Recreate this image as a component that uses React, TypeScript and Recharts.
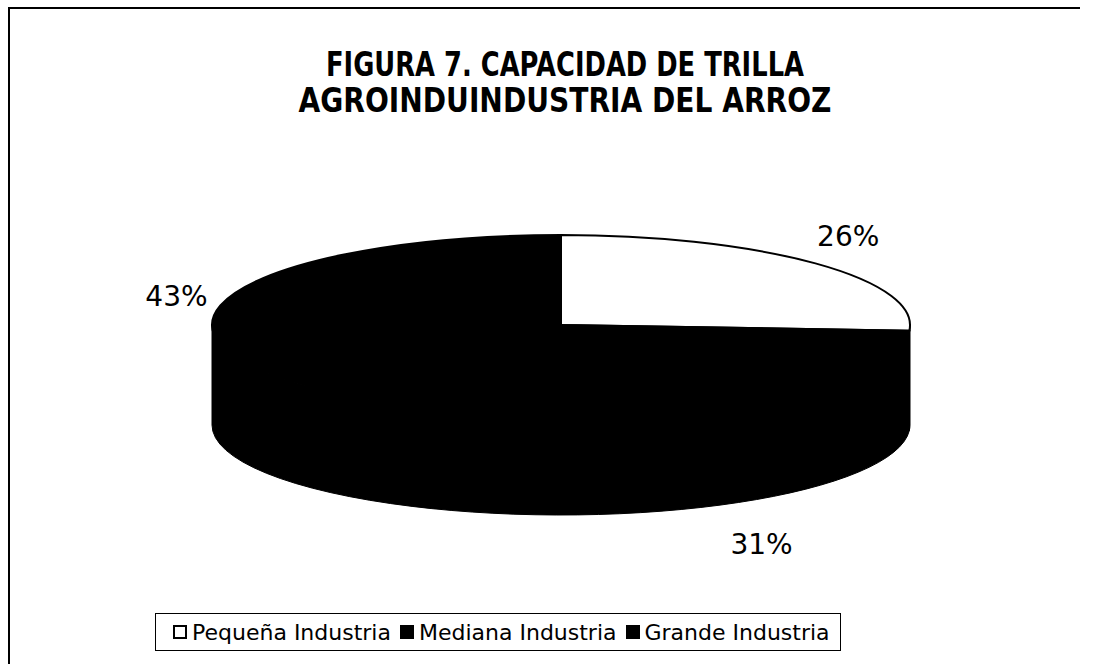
import React from 'react';
import { PieChart, Pie, Cell, Legend } from 'recharts';

const categories = ['Pequeña Industria', 'Mediana Industria', 'Grande Industria'];
const shares = [26, 31, 43];
const colors = ['#ffffff', '#000000', '#000000'];

const titleLines = ['FIGURA 7. CAPACIDAD DE TRILLA', 'AGROINDUINDUSTRIA DEL ARROZ'];

const data = categories.map((name, i) => ({ name, value: shares[i] }));

const W = 1100;
const H = 664;
const CX = 556;
const CY = 320;
const RX = 349;
const RY = 90;
const DEPTH = 100;
const FONT = '"DejaVu Sans", Verdana, sans-serif';

const rad = (a: number) => (a * Math.PI) / 180;
const pt = (cx: number, cy: number, a: number, dy = 0) =>
  `${cx + RX * Math.cos(rad(a))},${cy - RY * Math.sin(rad(a)) + dy}`;

// sector drawn as a tilted (elliptical) slice with its front wall
function Slice3D(props: any) {
  const { cx, cy, startAngle, endAngle, fill } = props;
  const s = Math.max(startAngle, endAngle);
  const e = Math.min(startAngle, endAngle);
  const large = s - e > 180 ? 1 : 0;
  const top = `M${cx},${cy} L${pt(cx, cy, s)} A${RX},${RY} 0 ${large} 1 ${pt(cx, cy, e)} Z`;

  const walls: string[] = [];
  [[-180, 0], [-540, -360]].forEach(([lo0, hi0]) => {
    const lo = Math.max(e, lo0);
    const hi = Math.min(s, hi0);
    if (lo < hi) {
      const lg = hi - lo > 180 ? 1 : 0;
      walls.push(
        `M${pt(cx, cy, hi)} A${RX},${RY} 0 ${lg} 1 ${pt(cx, cy, lo)} L${pt(cx, cy, lo, DEPTH)} A${RX},${RY} 0 ${lg} 0 ${pt(cx, cy, hi, DEPTH)} Z`
      );
    }
  });

  return (
    <g>
      {walls.map((d, i) => (
        <path key={i} d={d} fill="#000" stroke="#000" strokeWidth={1} />
      ))}
      <path d={top} fill={fill} stroke="#000" strokeWidth={2} />
    </g>
  );
}

function renderLabel(props: any) {
  const { cx, cy, midAngle, value } = props;
  const sn = Math.sin(rad(midAngle));
  const x = cx + (RX + 45) * Math.cos(rad(midAngle));
  const y = cy - (RY + 40) * sn + (sn < 0 ? DEPTH + 8 : 0);
  return (
    <text x={x} y={y} textAnchor="middle" dominantBaseline="central" fill="#000" fontSize={28} fontFamily={FONT}>
      {`${value}%`}
    </text>
  );
}

function LegendBox() {
  return (
    <div
      style={{
        border: '1.5px solid #000',
        display: 'flex',
        alignItems: 'center',
        height: 38,
        width: 686,
        padding: '0 0 0 17px',
        fontFamily: FONT,
        fontSize: 22,
        color: '#000',
        boxSizing: 'border-box',
        whiteSpace: 'nowrap',
      }}
    >
      {categories.map((name, i) => (
        <span key={name} style={{ display: 'flex', alignItems: 'center', marginRight: 9 }}>
          <span
            style={{
              width: 10,
              height: 10,
              border: '2px solid #000',
              background: colors[i],
              marginRight: 5,
              display: 'inline-block',
            }}
          />
          {name}
        </span>
      ))}
    </div>
  );
}

const titleWidths = [478, 533];

export default function App() {
  return (
    <div style={{ position: 'absolute', left: 0, top: 0, width: W, height: H, background: '#fff', overflow: 'hidden' }}>
      <div style={{ position: 'absolute', left: 8, top: 7, width: 1072, height: 2, background: '#000' }} />
      <div style={{ position: 'absolute', left: 8, top: 7, width: 2, height: H - 7, background: '#000' }} />
      <svg width={W} height={130} style={{ position: 'absolute', left: 0, top: 0 }}>
        {titleLines.map((t, i) => (
          <text
            key={t}
            x={565}
            y={76 + i * 36}
            textAnchor="middle"
            fontFamily={FONT}
            fontWeight="bold"
            fontSize={34}
            fill="#000"
            textLength={titleWidths[i]}
            lengthAdjust="spacingAndGlyphs"
          >
            {t}
          </text>
        ))}
      </svg>
      <div style={{ position: 'absolute', left: 0, top: 0 }}>
        <PieChart width={W} height={H}>
          <Pie
            data={data}
            dataKey="value"
            nameKey="name"
            cx={CX}
            cy={CY}
            outerRadius={RX}
            startAngle={90}
            endAngle={-270}
            shape={Slice3D}
            label={renderLabel}
            labelLine={false}
            isAnimationActive={false}
          >
            {data.map((d, i) => (
              <Cell key={d.name} fill={colors[i]} />
            ))}
          </Pie>
          <Legend
            content={<LegendBox />}
            wrapperStyle={{ position: 'absolute', left: 155, top: 613, width: 'auto', bottom: 'auto' }}
          />
        </PieChart>
      </div>
    </div>
  );
}
